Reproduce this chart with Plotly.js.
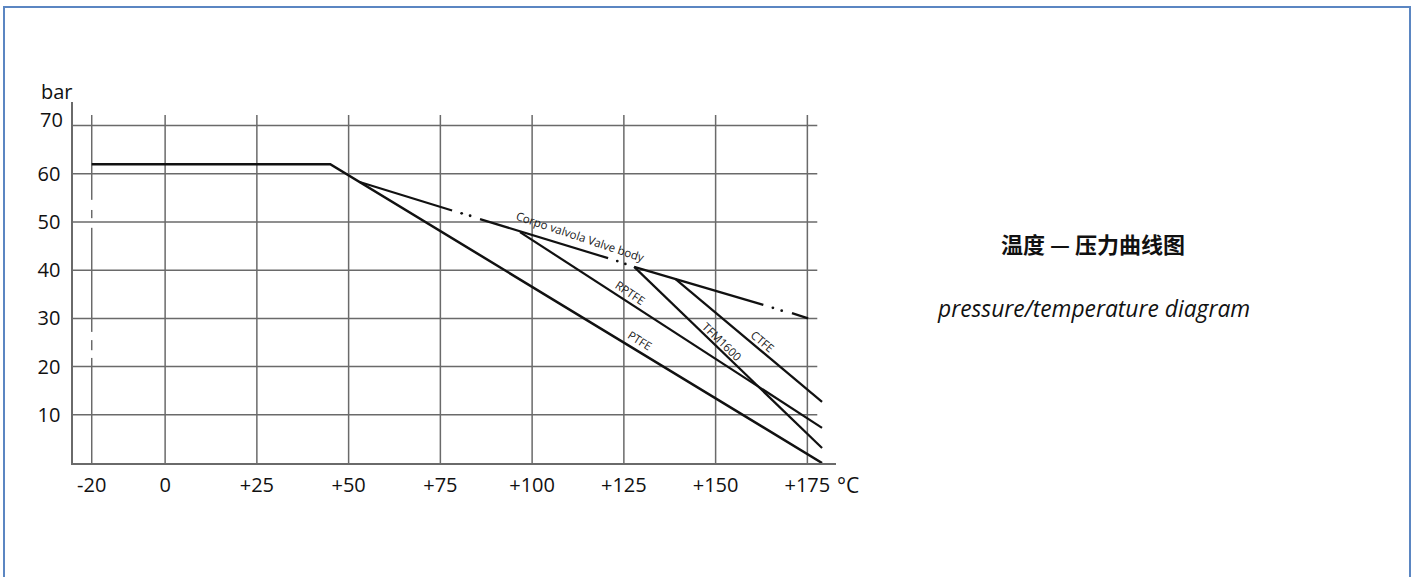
<!DOCTYPE html>
<html><head><meta charset="utf-8">
<script src="https://cdn.plot.ly/plotly-3.0.1.min.js"></script>
<style>
html,body{margin:0;padding:0;background:#fff;overflow:hidden;}
#frame{position:absolute;left:3px;top:6px;width:1404px;height:620px;border:2px solid #5b86c2;border-bottom:none;}
#chart{position:absolute;left:0;top:0;width:1412px;height:577px;}
</style></head><body>
<div id="frame"></div>
<div id="chart"></div>
<script>
// ---- data ----
const xTickVals = [-20, 0, 25, 50, 75, 100, 125, 150, 175];
const xTickText = ['-20', '0', '+25', '+50', '+75', '+100', '+125', '+150', '+175'];
const yTickVals = [10, 20, 30, 40, 50, 60, 70];
const yTickText = ['10', '20', '30', '40', '50', '60', '70'];

// body flat limit then PTFE
const ptfeT = [-20, 45, 179];
const ptfeP = [62, 62, 0];
// Corpo valvola / Valve body (dash-dot drawn as segments + dots)
const valveT = [53, 78.2, null, 85.8, 120.7, null, 127.8, 163, null, 170.8, 175.2];
const valveP = [58.3, 52.4, null, 50.6, 42.5, null, 40.7, 32.8, null, 31.1, 30.0];
const valveDotT = [80.8, 83.1, 123.2, 125.4, 165.6, 168];
const valveDotP = [51.8, 51.3, 41.9, 41.3, 32.2, 31.6];
const rptfeT = [96.7, 179];
const rptfeP = [47.9, 7.3];
const tfmT = [127.8, 179];
const tfmP = [40.7, 3.1];
const ctfeT = [139, 179];
const ctfeP = [38.2, 12.7];

// broken -20 gridline segments (bar)
const minus20SegLo = [0, 23.4, 27.2, 50.8, 54.6];
const minus20SegHi = [21.8, 25.5, 48.8, 52.5, 72.2];

// ---- layout geometry ----
const L = 73, R = 836, T = 102, B = 463, W = 1412, H = 577;
const xRange = [-25.1, 182.8];
const yRange = [0, 74.9];
const gridTop = 72.2, gridRight = 177.7;
const px2paperX = p => (p - L) / (R - L);
const px2paperY = p => (B - p) / (B - T);

const gridColor = '#6a6a6a';
const lineColor = '#111';

const shapes = [];
xTickVals.forEach(v => {
  if (v === -20) {
    minus20SegLo.forEach((lo, i) => shapes.push({type: 'line', xref: 'x', yref: 'y', x0: v, x1: v, y0: lo, y1: minus20SegHi[i], layer: 'below', line: {color: gridColor, width: 1.5}}));
  } else {
    shapes.push({type: 'line', xref: 'x', yref: 'y', x0: v, x1: v, y0: 0, y1: gridTop, layer: 'below', line: {color: gridColor, width: 1.5}});
  }
});
yTickVals.forEach(v => shapes.push({type: 'line', xref: 'x', yref: 'y', x0: xRange[0], x1: gridRight, y0: v, y1: v, layer: 'below', line: {color: gridColor, width: 1.5}}));

const lineStyle = {color: lineColor, width: 2.2};
const traces = [
  {x: ptfeT, y: ptfeP, mode: 'lines', line: {color: lineColor, width: 2.5}, name: 'PTFE'},
  {x: valveT, y: valveP, mode: 'lines', line: lineStyle, connectgaps: false, name: 'Valve body'},
  {x: valveDotT, y: valveDotP, mode: 'markers', marker: {color: lineColor, size: 2.8}, name: 'Valve body dots'},
  {x: rptfeT, y: rptfeP, mode: 'lines', line: lineStyle, name: 'RPTFE'},
  {x: tfmT, y: tfmP, mode: 'lines', line: lineStyle, name: 'TFM1600'},
  {x: ctfeT, y: ctfeP, mode: 'lines', line: lineStyle, name: 'CTFE'}
];

const lblFont = {family: 'Open Sans, sans-serif', size: 11.5, color: '#1a1a1a'};
const tickFont = {family: 'Open Sans, sans-serif', size: 20, color: '#111'};
const annotations = [
  {x: 113.1, y: 46.9, text: 'Corpo valvola Valve body', textangle: 18.5},
  {x: 126.7, y: 35.4, text: 'RPTFE', textangle: 34},
  {x: 129.4, y: 25.4, text: 'PTFE', textangle: 32},
  {x: 151.8, y: 25.3, text: 'TFM1600', textangle: 44},
  {x: 162.9, y: 25.3, text: 'CTFE', textangle: 40}
].map(a => Object.assign({xref: 'x', yref: 'y', showarrow: false, font: lblFont, xanchor: 'center', yanchor: 'middle'}, a));

// the top tick label (70) sits a little above its gridline in the original
const yTickTextShown = yTickText.map((t, i) => i === yTickText.length - 1 ? '' : t);
annotations.push({xref: 'paper', yref: 'paper', x: px2paperX(65), y: px2paperY(119.5), text: yTickText[yTickText.length - 1], showarrow: false, xanchor: 'right', yanchor: 'middle', font: tickFont});

annotations.push({xref: 'paper', yref: 'paper', x: px2paperX(57), y: px2paperY(91), text: 'bar', showarrow: false, xanchor: 'center', yanchor: 'middle', font: {family: 'Open Sans, sans-serif', size: 20, color: '#111'}});
annotations.push({xref: 'paper', yref: 'paper', x: px2paperX(848), y: px2paperY(485), text: '°C', showarrow: false, xanchor: 'center', yanchor: 'middle', font: {family: 'Open Sans, sans-serif', size: 21, color: '#111'}});
annotations.push({xref: 'paper', yref: 'paper', x: px2paperX(1093), y: px2paperY(243), text: '<b>温度 — 压力曲线图</b>', showarrow: false, xanchor: 'center', yanchor: 'middle', font: {family: 'Noto Sans CJK SC, sans-serif', size: 22, color: '#111'}});
annotations.push({xref: 'paper', yref: 'paper', x: px2paperX(1093), y: px2paperY(308), text: '<i>pressure/temperature diagram</i>', showarrow: false, xanchor: 'center', yanchor: 'middle', font: {family: 'Open Sans, sans-serif', size: 22.8, color: '#111'}});

const layout = {
  width: W, height: H,
  margin: {l: L, r: W - R, t: T, b: H - B, pad: 0},
  paper_bgcolor: 'rgba(0,0,0,0)', plot_bgcolor: 'rgba(0,0,0,0)',
  showlegend: false,
  xaxis: {range: xRange, tickvals: xTickVals, ticktext: xTickText, showgrid: false, zeroline: false,
          showline: true, linecolor: gridColor, linewidth: 1.6, ticks: '', tickfont: tickFont, ticklabelstandoff: 3, fixedrange: true},
  yaxis: {range: yRange, tickvals: yTickVals, ticktext: yTickTextShown, showgrid: false, zeroline: false,
          showline: true, linecolor: gridColor, linewidth: 1.6, ticks: '', tickfont: tickFont, ticklabelstandoff: 7, fixedrange: true},
  shapes: shapes,
  annotations: annotations
};
Plotly.newPlot('chart', traces, layout, {displayModeBar: false, staticPlot: true});
</script></body></html>
